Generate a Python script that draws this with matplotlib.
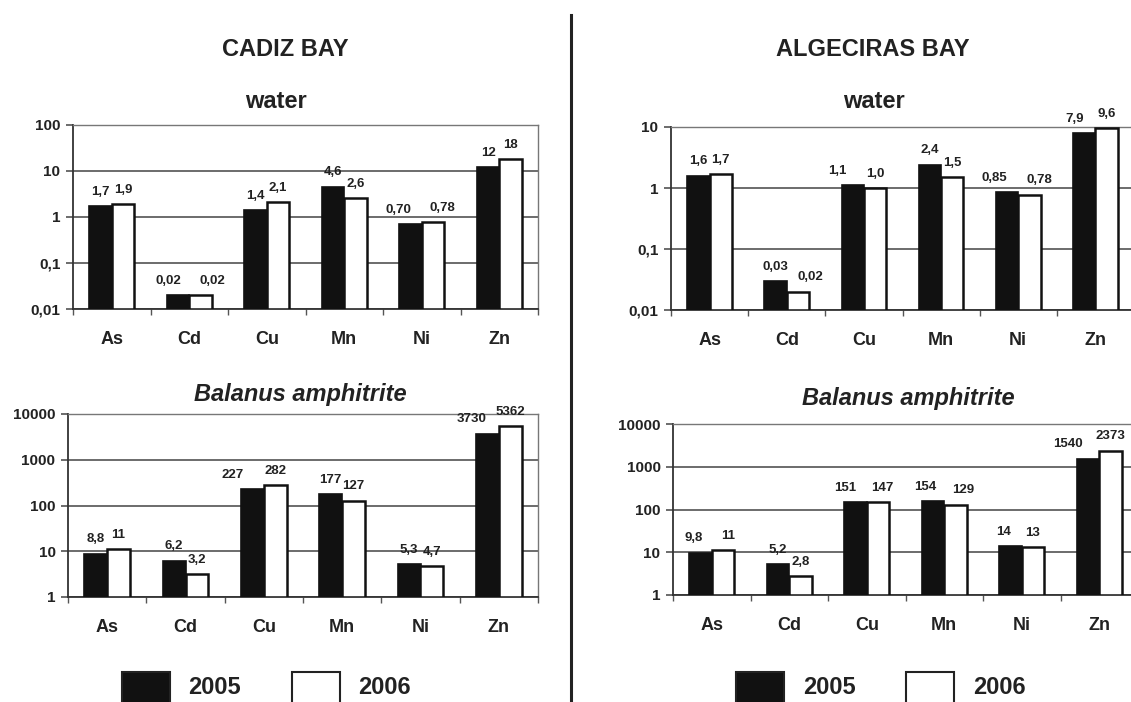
import numpy as np
import matplotlib
matplotlib.use("Agg")
import matplotlib.pyplot as plt
from matplotlib.ticker import FixedLocator, FuncFormatter, NullFormatter
from matplotlib.patches import Rectangle
from matplotlib.lines import Line2D

plt.rcParams['font.family'] = ['Liberation Sans', 'DejaVu Sans']
plt.rcParams['font.weight'] = 'bold'

metals = ["As", "Cd", "Cu", "Mn", "Ni", "Zn"]
years = ["2005", "2006"]

# Cadiz Bay
cadiz_water_2005 = [1.7, 0.02, 1.4, 4.6, 0.70, 12]
cadiz_water_2006 = [1.9, 0.02, 2.1, 2.6, 0.78, 18]
cadiz_balanus_2005 = [8.8, 6.2, 227, 177, 5.3, 3730]
cadiz_balanus_2006 = [11, 3.2, 282, 127, 4.7, 5362]

# Algeciras Bay
alg_water_2005 = [1.6, 0.03, 1.1, 2.4, 0.85, 7.9]
alg_water_2006 = [1.7, 0.02, 1.0, 1.5, 0.78, 9.6]
alg_balanus_2005 = [9.8, 5.2, 151, 154, 14, 1540]
alg_balanus_2006 = [11, 2.8, 147, 129, 13, 2373]

# sideways nudges (px) of some value labels, as in the original layout
label_nudge = {
    ("cw", "Cd", 0): -10, ("cw", "Cd", 1): 12,
    ("cw", "Ni", 0): -12, ("cw", "Ni", 1): 9,
    ("cb", "Cu", 0): -20, ("cb", "Zn", 0): -16,
    ("aw", "Cd", 1): 12, ("aw", "Cu", 0): -15,
    ("aw", "Ni", 0): -13, ("aw", "Ni", 1): 10, ("aw", "Zn", 0): -10,
    ("ab", "As", 0): -7, ("ab", "As", 1): 5,
    ("ab", "Cu", 0): -10, ("ab", "Cu", 1): 4,
    ("ab", "Mn", 0): -8, ("ab", "Mn", 1): 8,
    ("ab", "Ni", 0): -7, ("ab", "Zn", 0): -20,
}

W, H = 1131, 702
fig = plt.figure(figsize=(W / 100, H / 100), dpi=100)


def px_axes(x0, x1, y0, y1):
    # pixel box (top-left origin) -> figure axes
    return fig.add_axes([x0 / W, 1 - y1 / H, (x1 - x0) / W, (y1 - y0) / H])


def fmt_val(v):
    if v < 1:
        s = "%.2f" % v
    elif v < 10:
        s = "%.1f" % v
    else:
        s = "%.0f" % v
    return s.replace(".", ",")


def fmt_tick(v, pos):
    if v >= 1:
        return "%d" % round(v)
    return ("%g" % v).replace(".", ",")


def bar_panel(ax, key, v2005, v2006, ylim):
    x = np.arange(len(metals))
    w = 0.29
    base = ylim[0]
    ax.set_yscale("log")
    ax.set_ylim(*ylim)
    ax.set_xlim(-0.5, len(metals) - 0.5)
    decades = 10.0 ** np.arange(np.log10(ylim[0]), np.log10(ylim[1]) + 1)
    ax.yaxis.set_major_locator(FixedLocator(decades))
    ax.yaxis.set_minor_locator(FixedLocator([]))
    ax.yaxis.set_major_formatter(FuncFormatter(fmt_tick))
    ax.grid(axis="y", color="#444444", lw=1.1)
    ax.set_axisbelow(True)
    h1 = np.array(v2005) - base
    h2 = np.array(v2006) - base
    b1 = ax.bar(x - w / 2, h1, w, bottom=base, color="#111111",
                edgecolor="#111111", lw=1.2, zorder=3)
    b2 = ax.bar(x + w / 2, h2, w, bottom=base, color="white",
                edgecolor="#111111", lw=1.8, zorder=3)
    for k, (bars, vals) in enumerate(((b1, v2005), (b2, v2006))):
        for m, r, v in zip(metals, bars, vals):
            dx = label_nudge.get((key, m, k), 0) * 0.72
            ax.annotate(fmt_val(v), (r.get_x() + r.get_width() / 2, v),
                        xytext=(dx, 6), textcoords="offset points",
                        ha="center", va="bottom", fontsize=9.5,
                        fontweight="bold", color="#222222")
    # category boundaries as ticks, names as minor labels
    ax.xaxis.set_major_locator(FixedLocator(np.arange(-0.5, len(metals))))
    ax.xaxis.set_major_formatter(NullFormatter())
    ax.xaxis.set_minor_locator(FixedLocator(x))
    ax.set_xticklabels(metals, minor=True)
    ax.tick_params(axis="x", which="major", direction="out", length=4,
                   width=1, color="#555555")
    ax.tick_params(axis="x", which="minor", length=0, pad=16,
                   labelsize=13, labelcolor="#222222")
    ax.tick_params(axis="y", direction="out", length=5, width=1.1,
                   pad=4, labelsize=11, labelcolor="#222222", color="#444444")
    for t in ax.get_xticklabels(minor=True) + ax.get_yticklabels():
        t.set_fontweight("bold")
    for s in ("left", "bottom"):
        ax.spines[s].set_color("#333333")
        ax.spines[s].set_linewidth(1.3)
    for s in ("top", "right"):
        ax.spines[s].set_color("#777777")
        ax.spines[s].set_linewidth(1.0)


ax1 = px_axes(73, 538, 125, 309)
bar_panel(ax1, "cw", cadiz_water_2005, cadiz_water_2006, (0.01, 100))
ax2 = px_axes(68, 538, 414, 597)
bar_panel(ax2, "cb", cadiz_balanus_2005, cadiz_balanus_2006, (1, 10000))
ax3 = px_axes(671, 1134, 127, 310)
bar_panel(ax3, "aw", alg_water_2005, alg_water_2006, (0.01, 10))
ax4 = px_axes(673, 1138, 424, 595)
bar_panel(ax4, "ab", alg_balanus_2005, alg_balanus_2006, (1, 10000))


def ftext(x, y, s, **kw):
    fig.text(x / W, 1 - y / H, s, ha="center", va="center",
             fontweight="bold", color="#222222", **kw)


ftext(285, 49, "CADIZ BAY", fontsize=17)
ftext(873, 49, "ALGECIRAS BAY", fontsize=17)
ftext(276, 102, "water", fontsize=17)
ftext(874, 102, "water", fontsize=17)
ftext(300, 395, "Balanus amphitrite", fontsize=17, style="italic")
ftext(908, 399, "Balanus amphitrite", fontsize=17, style="italic")

# divider
fig.add_artist(Line2D([571 / W, 571 / W], [0, 1 - 15 / H], color="#222222",
                      lw=2.2, transform=fig.transFigure))

# legends
for bx, tx in ((122, 188), (736, 803)):
    for i, (fc, yr) in enumerate(zip(["#111111", "white"], years)):
        off = i * 170
        fig.add_artist(Rectangle(((bx + off) / W, 1 - 708 / H), 48 / W, 36 / H,
                                 facecolor=fc, edgecolor="#222222", lw=1.5,
                                 transform=fig.transFigure))
        fig.text((tx + off) / W, 1 - 687 / H, yr, ha="left", va="center",
                 fontsize=17, fontweight="bold", color="#222222")

fig.savefig("out.png", dpi=100)
